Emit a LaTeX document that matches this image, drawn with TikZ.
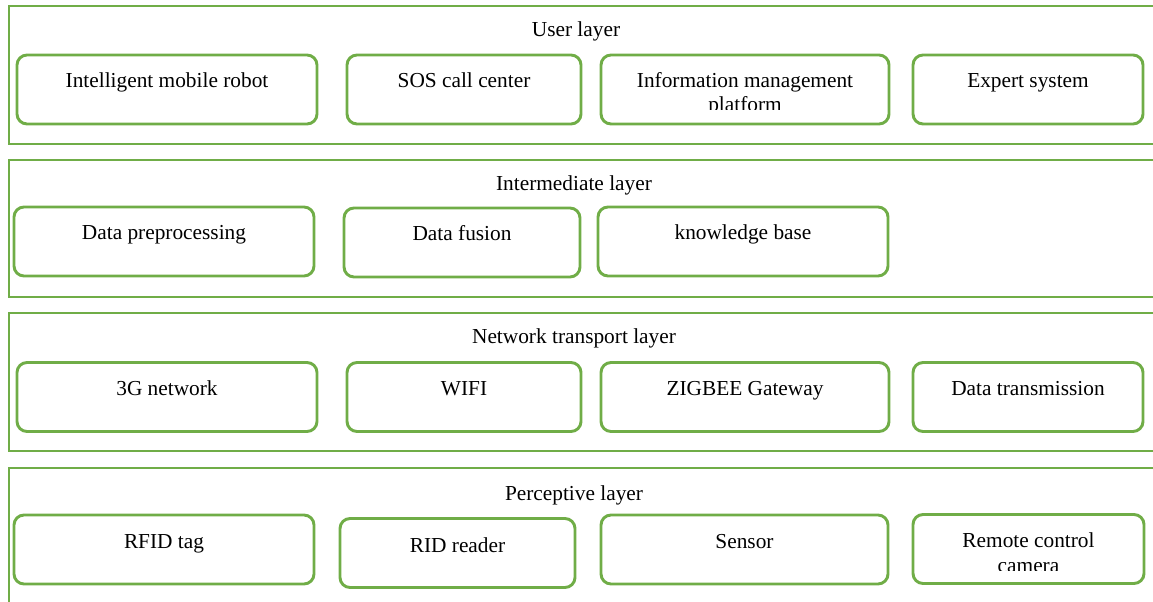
\documentclass[tikz,border=0pt]{standalone}
\usepackage{fontspec}
\setmainfont{Liberation Serif}
\usepackage{xcolor}
\usepackage{tikz}
\usetikzlibrary{positioning,calc}
\definecolor{leafgreen}{HTML}{70AD47}

\begin{document}
\begin{tikzpicture}[
    x=0.75pt,y=-0.75pt,
    layer/.style  = {rectangle,draw=leafgreen,line width=1.6pt,anchor=north west,
                     minimum width=871.5pt,inner sep=0pt},
    modbox/.style = {rectangle,rounded corners=7.5pt,draw=leafgreen,line width=2.2pt,
                     minimum height=51.75pt,inner sep=0pt},
    titre/.style  = {font=\fontsize{16}{18}\selectfont,anchor=base,inner sep=0pt},
    lbl/.style    = {font=\fontsize{16}{18}\selectfont,align=center,anchor=base,
                     inner sep=0pt},
  ]
  \clip (0,0) rectangle (1153,602);

  % ── User layer ──────────────────────────────────────────────────────────
  \node[layer,minimum height=103.5pt] (user) at (8,5) {};
  \node[titre] (user-t) at (576,37) {User layer};
  \node[modbox,minimum width=225pt]   (robot) at (167,89.5) {};
  \node[modbox,minimum width=175.5pt] (sos)   at (464,89.5) {};
  \node[modbox,minimum width=216pt]   (info)  at (745,89.5) {};
  \node[modbox,minimum width=172.5pt] (expert) at (1028,89.5) {};
  \node[lbl] at (167,88) {Intelligent mobile robot};
  \node[lbl] at (464,88) {SOS call center};
  \begin{scope}
    \clip (601,55) rectangle (889,110);
    \node[lbl] at (745,88) {Information management};
    \node[lbl] at (745,112) {platform};
  \end{scope}
  \node[lbl] at (1028,88) {Expert system};

  % ── Intermediate layer ──────────────────────────────────────────────────
  \node[layer,minimum height=102.75pt] (inter) at (8,159) {};
  \node[titre] (inter-t) at (574,191) {Intermediate layer};
  \node[modbox,minimum width=225pt] (prep)   at (164,241.5) {};
  \node[modbox,minimum width=177pt] (fusion) at (462,242.5) {};
  \node[modbox,minimum width=217.5pt] (know) at (743,241.5) {};
  \node[lbl] at (164,240) {Data preprocessing};
  \node[lbl] at (462,241) {Data fusion};
  \node[lbl] at (743,240) {knowledge base};

  % ── Network transport layer ─────────────────────────────────────────────
  \node[layer,minimum height=103.5pt] (net) at (8,312) {};
  \node[titre] (net-t) at (574,344) {Network transport layer};
  \node[modbox,minimum width=225pt]   (g3)   at (167,397) {};
  \node[modbox,minimum width=175.5pt] (wifi) at (464,397) {};
  \node[modbox,minimum width=216pt]   (zig)  at (745,397) {};
  \node[modbox,minimum width=172.5pt] (trans) at (1028,397) {};
  \node[lbl] at (167,395) {3G network};
  \node[lbl] at (464,395) {WIFI};
  \node[lbl] at (745,395) {ZIGBEE Gateway};
  \node[lbl] at (1028,395) {Data transmission};

  % ── Perceptive layer ────────────────────────────────────────────────────
  \node[layer,minimum height=114.75pt] (perc) at (8,467) {};
  \node[titre] (perc-t) at (574,500) {Perceptive layer};
  \node[modbox,minimum width=225pt]    (tag)    at (164,549.5) {};
  \node[modbox,minimum width=176.25pt] (reader) at (457.5,553) {};
  \node[modbox,minimum width=215.25pt] (sensor) at (744.5,549.5) {};
  \node[modbox,minimum width=173.25pt] (camera) at (1028.5,549) {};
  \node[lbl] at (164,548) {RFID tag};
  \node[lbl] at (457.5,552) {RID reader};
  \node[lbl] at (744.5,548) {Sensor};
  \begin{scope}
    \clip (913,514) rectangle (1144,570);
    \node[lbl] at (1028.5,547) {Remote control};
    \node[lbl] at (1028.5,572) {camera};
  \end{scope}

\end{tikzpicture}
\end{document}
